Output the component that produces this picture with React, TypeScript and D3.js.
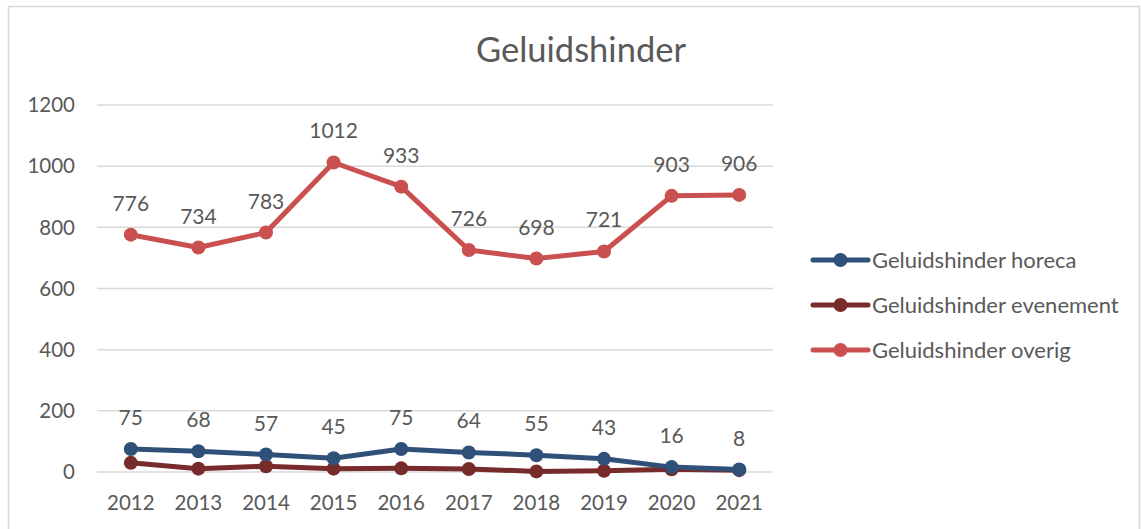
import React, { useEffect, useRef } from "react";
import * as d3 from "d3";

const years = ["2012", "2013", "2014", "2015", "2016", "2017", "2018", "2019", "2020", "2021"];
const horeca = [75, 68, 57, 45, 75, 64, 55, 43, 16, 8];
const evenement = [30, 11, 19, 11, 12, 10, 2, 4, 9, 6];
const overig = [776, 734, 783, 1012, 933, 726, 698, 721, 903, 906];
const yTicks = [0, 200, 400, 600, 800, 1000, 1200];

const seriesNames = ["Geluidshinder horeca", "Geluidshinder evenement", "Geluidshinder overig"];
const seriesColors = ["#2E5079", "#772B2A", "#C9504F"];
const seriesValues = [horeca, evenement, overig];
const seriesLabelled = [true, false, true];

const App = () => {
  const ref = useRef<SVGSVGElement>(null);

  const dimensions = { width: 1141, height: 529 };
  const margin = { top: 105, left: 97, right: 368, bottom: 57 };
  const graph = {
    width: dimensions.width - margin.left - margin.right,
    height: dimensions.height - margin.top - margin.bottom,
  };
  const font = "Lato, 'Open Sans', sans-serif";
  const textColor = "#595959";

  useEffect(() => {
    const svg = d3.select(ref.current);
    svg.selectAll("*").remove();

    // outer frame
    svg
      .append("rect")
      .attr("x", 8.5)
      .attr("y", 6.5)
      .attr("width", 1131)
      .attr("height", 540)
      .attr("fill", "#fff")
      .attr("stroke", "#D9D9D9")
      .attr("stroke-width", 1.5);

    // title
    svg
      .append("text")
      .attr("x", 581)
      .attr("y", 62)
      .attr("text-anchor", "middle")
      .attr("font-family", font)
      .attr("font-size", 34.5)
      .attr("fill", textColor)
      .text("Geluidshinder");

    const x = d3.scaleBand().domain(years).range([0, graph.width]);
    const y = d3.scaleLinear().domain([0, 1200]).range([graph.height, 0]);
    const cx = (i: number) => (x(years[i]) as number) + x.bandwidth() / 2;

    const g = svg.append("g").attr("transform", `translate(${margin.left}, ${margin.top})`);

    // gridlines
    g.selectAll("line.grid")
      .data(yTicks)
      .enter()
      .append("line")
      .attr("class", "grid")
      .attr("x1", 0)
      .attr("x2", graph.width)
      .attr("y1", (d) => y(d))
      .attr("y2", (d) => y(d))
      .attr("stroke", "#D9D9D9")
      .attr("stroke-width", 1.5);

    // y labels
    g.selectAll("text.ytick")
      .data(yTicks)
      .enter()
      .append("text")
      .attr("class", "ytick")
      .attr("x", -22)
      .attr("y", (d) => y(d))
      .attr("dy", "0.35em")
      .attr("text-anchor", "end")
      .attr("font-family", font)
      .attr("font-size", 20.5)
      .attr("fill", textColor)
      .text((d) => d);

    // x labels
    g.selectAll("text.xtick")
      .data(years)
      .enter()
      .append("text")
      .attr("class", "xtick")
      .attr("x", (_, i) => cx(i))
      .attr("y", graph.height + 38)
      .attr("text-anchor", "middle")
      .attr("font-family", font)
      .attr("font-size", 20.5)
      .attr("fill", textColor)
      .text((d) => d);

    const line = d3
      .line<number>()
      .x((_, i) => cx(i))
      .y((d) => y(d));

    // series: draw overig first, then evenement, then horeca on top
    [2, 1, 0].forEach((s) => {
      const vals = seriesValues[s];
      g.append("path")
        .datum(vals)
        .attr("fill", "none")
        .attr("stroke", seriesColors[s])
        .attr("stroke-width", 5)
        .attr("stroke-linejoin", "round")
        .attr("d", line);
      g.selectAll(`circle.s${s}`)
        .data(vals)
        .enter()
        .append("circle")
        .attr("class", `s${s}`)
        .attr("cx", (_, i) => cx(i))
        .attr("cy", (d) => y(d))
        .attr("r", 7)
        .attr("fill", seriesColors[s]);
    });

    // data labels
    [0, 2].forEach((s) => {
      if (!seriesLabelled[s]) return;
      g.selectAll(`text.lbl${s}`)
        .data(seriesValues[s])
        .enter()
        .append("text")
        .attr("class", `lbl${s}`)
        .attr("x", (_, i) => cx(i))
        .attr("y", (d) => y(d) - 24)
        .attr("text-anchor", "middle")
        .attr("font-family", font)
        .attr("font-size", 21)
        .attr("fill", textColor)
        .text((d) => d);
    });

    // legend
    const legend = svg.append("g").attr("transform", "translate(813, 260)");
    seriesNames.forEach((name, s) => {
      const row = legend.append("g").attr("transform", `translate(0, ${s * 45})`);
      row
        .append("line")
        .attr("x1", 0)
        .attr("x2", 55)
        .attr("y1", 0)
        .attr("y2", 0)
        .attr("stroke", seriesColors[s])
        .attr("stroke-width", 5)
        .attr("stroke-linecap", "round");
      row.append("circle").attr("cx", 27.5).attr("cy", 0).attr("r", 7).attr("fill", seriesColors[s]);
      row
        .append("text")
        .attr("x", 59)
        .attr("y", 0)
        .attr("dy", "0.35em")
        .attr("font-family", font)
        .attr("font-size", 22)
        .attr("fill", textColor)
        .text(name);
    });
  }, []);

  return (
    <svg
      ref={ref}
      width={dimensions.width}
      height={dimensions.height}
      style={{ position: "absolute", left: 0, top: 0, display: "block" }}
    />
  );
};

export default App;
